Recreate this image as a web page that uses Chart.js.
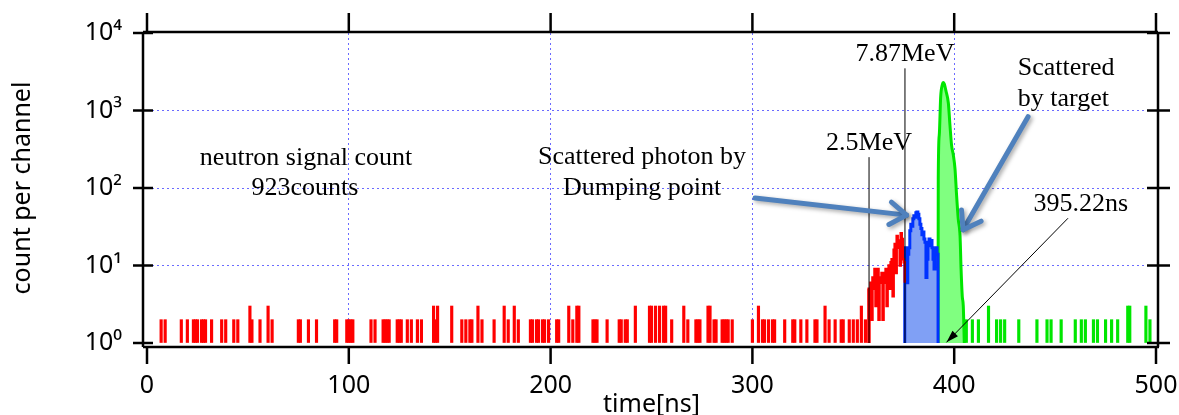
<!DOCTYPE html>
<html>
<head>
<meta charset="utf-8">
<script src="https://cdn.jsdelivr.net/npm/chart.js@4"></script>
<style>
  html, body { margin: 0; padding: 0; background: #fff; }
</style>
</head>
<body>
<canvas id="myChart" width="1179" height="415"></canvas>
<script>
// axis ticks
const xTicks = [0, 100, 200, 300, 400, 500];
const yTicks = [1, 10, 100, 1000, 10000];

// isolated single-channel hits (neutron side, red)
const redSpikeTime = [7, 9, 17, 20, 23, 24, 25, 27, 28, 29, 32, 37, 39, 43, 45, 51, 52, 56, 60, 62,
  75, 76, 80, 84, 93, 94, 99, 100, 101, 102, 111, 113, 117, 118, 119, 120, 124, 125, 126, 129,
  131, 134, 136, 142, 143, 144, 151, 156, 158, 160, 161, 164, 166, 172, 177, 179, 182, 184, 190, 191,
  193, 194, 196, 197, 199, 203, 204, 209, 211, 213, 214, 221, 222, 223, 228, 234, 235, 237, 238, 242,
  249, 250, 252, 254, 256, 257, 260, 266, 268, 272, 273, 274, 278, 279, 281, 282, 285, 286, 287, 288,
  290, 300, 303, 305, 306, 308, 310, 311, 316, 320, 321, 324, 327, 331, 332, 336, 338, 341, 344, 345,
  348, 350, 352, 354, 356];
const redSpikeCount = [2, 2, 2, 2, 2, 2, 2, 2, 2, 2, 2, 2, 2, 2, 2, 3, 2, 2, 3, 2,
  2, 2, 2, 2, 2, 2, 2, 2, 2, 2, 2, 2, 2, 2, 2, 2, 2, 2, 2, 2,
  2, 2, 2, 3, 2, 3, 3, 2, 2, 2, 2, 3, 2, 2, 3, 2, 3, 2, 2, 2,
  2, 2, 2, 2, 2, 2, 2, 3, 2, 3, 3, 2, 2, 2, 2, 2, 2, 2, 2, 3,
  3, 3, 3, 3, 3, 3, 2, 3, 2, 2, 2, 2, 3, 3, 2, 2, 2, 2, 2, 2,
  2, 2, 3, 2, 2, 2, 2, 2, 2, 2, 2, 2, 2, 2, 2, 3, 2, 2, 2, 2,
  2, 2, 2, 3, 2];

// rising neutron part just before the photon peak
const redRiseTime = [357, 357.5, 358, 358.5, 359, 359.5, 360, 360.5, 361, 361.5, 362, 362.5, 363, 363.5,
  364, 364.5, 365, 365.5, 366, 366.5, 367, 367.5, 368, 368.5, 369, 369.5, 370, 370.5, 371, 371.5,
  372, 372.5, 373, 373.5, 374, 374.5, 375, 375.5];
const redRiseCount = [5, 1, 4, 6, 2, 7, 5, 9, 3, 8, 9, 2, 7, 6,
  8, 2, 8, 6, 9, 3, 7, 10, 5, 11, 12, 4, 16, 19, 8, 24,
  17, 21, 10, 26, 22, 12, 11, 6];

// scattered photon by dumping point (blue)
const blueTime = [375.5, 375.5, 376, 376.5, 377, 377.5, 378, 378.5, 379, 379.5, 380, 380.5, 381, 381.5,
  382, 382.5, 383, 383.5, 384, 384.5, 385, 385.5, 386, 386.5, 387, 387.5, 388, 388.5, 389, 389.5,
  390, 390.5, 391, 391.5, 392];
const blueCount = [1, 17, 16, 6, 14, 17, 28, 34, 32, 40, 44, 42, 48, 49,
  46, 40, 34, 30, 25, 27, 22, 20, 7, 12, 20, 22, 18, 21, 17, 12,
  9, 16, 17, 14, 1];

// scattered by target (green)
const greenTime = [392, 392.1, 392.6, 393.3, 394.1, 394.7, 395.1, 395.9, 397.1, 397.9, 398.7, 399.6,
  400.4, 401.2, 402, 402.9, 403.4, 404, 404.5, 405];
const greenCount = [1, 130, 480, 1500, 2150, 2300, 2200, 1800, 1250, 645, 355, 263,
  177, 79, 40, 24, 9, 4, 3, 1];

const greenSpikeTime = [406, 409, 412, 417, 421, 423, 425, 432, 441, 446, 448, 453, 460, 463, 465,
  469, 471, 475, 478, 481, 486, 487, 495, 497];
const greenSpikeCount = [2, 2, 2, 3, 2, 2, 2, 2, 2, 2, 2, 2, 2, 2, 2,
  2, 2, 2, 2, 2, 3, 3, 3, 2];

// energy markers
const markerTime = [357.8, 375.6];
const markerTop = [250, 3500];
const markerText = ['2.5MeV', '7.87MeV'];

const toXY = (t, c) => t.map((v, i) => ({ x: v, y: c[i] }));

const sup = ['\u2070', '\u00b9', '\u00b2', '\u00b3', '\u2074'];

const serif = '26px "Liberation Serif", "Times New Roman", serif';
const gridBlue = '#6a6aff';

function arrow(ctx, x1, y1, x2, y2, head, spread, open) {
  const a = Math.atan2(y2 - y1, x2 - x1);
  ctx.beginPath();
  ctx.moveTo(x1, y1);
  ctx.lineTo(x2, y2);
  ctx.stroke();
  ctx.beginPath();
  ctx.moveTo(x2 - head * Math.cos(a - spread), y2 - head * Math.sin(a - spread));
  ctx.lineTo(x2, y2);
  ctx.lineTo(x2 - head * Math.cos(a + spread), y2 - head * Math.sin(a + spread));
  if (open) {
    ctx.stroke();
  } else {
    ctx.closePath();
    ctx.fill();
  }
}

const notes = {
  id: 'notes',
  afterDatasetsDraw(chart) {
    const { ctx, scales: { x, y } } = chart;
    const px = (t) => x.getPixelForValue(t);
    const py = (c) => y.getPixelForValue(c);
    ctx.save();

    // marker lines + labels
    ctx.strokeStyle = '#000';
    ctx.lineWidth = 1;
    ctx.font = serif;
    ctx.fillStyle = '#000';
    ctx.textAlign = 'center';
    ctx.textBaseline = 'middle';
    markerTime.forEach((t, i) => {
      ctx.beginPath();
      ctx.moveTo(px(t), py(1));
      ctx.lineTo(px(t), py(markerTop[i]));
      ctx.stroke();
      ctx.fillText(markerText[i], px(t), py(markerTop[i]) - 14);
    });

    ctx.fillText('neutron signal count', px(78.8), py(10 ** 2.39));
    ctx.fillText('923counts', px(78.3), py(10 ** 2.0));
    ctx.fillText('Scattered photon by', px(245.3), py(10 ** 2.4));
    ctx.fillText('Dumping point', px(245.3), py(10 ** 2.0));
    ctx.textAlign = 'left';
    ctx.fillText('Scattered', px(431.5), py(10 ** 3.55));
    ctx.fillText('by target', px(431.5), py(10 ** 3.15));
    ctx.textAlign = 'center';
    ctx.fillText('395.22ns', px(462.8), py(10 ** 1.79));

    // black pointer to 395.22ns
    ctx.lineWidth = 1;
    arrow(ctx, px(456.4), py(10 ** 1.61), px(396.2), py(1.02), 13, 0.3, false);

    // blue arrows
    ctx.strokeStyle = '#4f81bd';
    ctx.lineWidth = 5;
    ctx.lineCap = 'round';
    ctx.lineJoin = 'round';
    ctx.shadowColor = 'rgba(0,0,0,0.35)';
    ctx.shadowBlur = 4;
    ctx.shadowOffsetX = 2;
    ctx.shadowOffsetY = 2;
    arrow(ctx, px(301.3), py(10 ** 1.87), px(376.4), py(10 ** 1.65), 20, 0.6, true);
    arrow(ctx, px(436.6), py(10 ** 2.92), px(404.4), py(10 ** 1.46), 20, 0.6, true);
    ctx.restore();
  }
};

const frame = {
  id: 'frame',
  afterDraw(chart) {
    const { ctx, chartArea: a, scales: { x, y } } = chart;
    const L = a.left - 4, B = a.bottom + 4, T = a.top - 1, R = a.right + 2;
    const line = (x1, y1, x2, y2) => { ctx.beginPath(); ctx.moveTo(x1, y1); ctx.lineTo(x2, y2); ctx.stroke(); };
    ctx.save();
    ctx.strokeStyle = '#000';
    ctx.lineWidth = 2.5;
    line(L, T, R, T);
    line(L, T, L, B);
    line(L, B, R + 1, B);
    line(R, T, R, B);
    xTicks.forEach(v => {
      const p = x.getPixelForValue(v);
      line(p, B, p, B + 17);
      line(p, T, p, T - 19);
    });
    yTicks.forEach(v => {
      const p = y.getPixelForValue(v);
      line(L - 10, p, L + 10, p);
      line(R - 11, p, R + 12, p);
    });
    ctx.restore();
  }
};

const ctx = document.getElementById('myChart');

new Chart(ctx, {
  type: 'line',
  data: {
    datasets: [
      {
        label: 'neutron rise',
        data: toXY(redRiseTime, redRiseCount),
        borderColor: '#ff0000',
        borderWidth: 2.5,
        stepped: true,
        fill: false,
        pointRadius: 0,
      },
      {
        label: 'photon (dumping point)',
        data: toXY(blueTime, blueCount),
        borderColor: '#0033ff',
        backgroundColor: 'rgb(128, 160, 245)',
        borderWidth: 3,
        stepped: true,
        fill: 'start',
        pointRadius: 0,
      },
      {
        label: 'scattered by target',
        data: toXY(greenTime, greenCount),
        borderColor: '#00e600',
        backgroundColor: 'rgb(128, 255, 128)',
        borderWidth: 3,
        cubicInterpolationMode: 'monotone',
        fill: 'start',
        pointRadius: 0,
      },
      {
        type: 'bar',
        label: 'neutron hits',
        data: toXY(redSpikeTime, redSpikeCount),
        backgroundColor: '#ff0000',
        barThickness: 2.5,
        grouped: false,
        base: 1,
      },
      {
        type: 'bar',
        label: 'late hits',
        data: toXY(greenSpikeTime, greenSpikeCount),
        backgroundColor: '#00e600',
        barThickness: 2.5,
        grouped: false,
        base: 1,
      },
    ],
  },
  options: {
    responsive: false,
    animation: false,
    layout: { padding: { left: 0, right: 23, top: 33, bottom: 0 } },
    plugins: {
      legend: { display: false },
      tooltip: { enabled: false },
    },
    scales: {
      x: {
        type: 'linear',
        min: 0,
        max: 500,
        offset: false,
        afterFit: (s) => { s.height = 72; s.paddingLeft = 0; s.paddingRight = 0; },
        afterBuildTicks: (s) => { s.ticks = xTicks.map(v => ({ value: v })); },
        ticks: {
          color: '#000',
          padding: 28,
          maxRotation: 0,
          font: { family: 'Noto Sans', size: 25 },
        },
        grid: {
          offset: false,
          drawTicks: false,
          lineWidth: 1,
          color: (c) => (c.tick && c.tick.value > 0 && c.tick.value < 500 ? gridBlue : 'rgba(0,0,0,0)'),
        },
        border: { display: false, dash: [2, 3] },
        title: {
          display: true,
          text: 'time[ns]',
          color: '#000',
          padding: 0,
          font: { family: 'Noto Sans', size: 25, lineHeight: 0.8 },
        },
      },
      y: {
        type: 'logarithmic',
        min: 1,
        max: 10000,
        afterFit: (s) => { s.width = 147; s.paddingTop = 0; s.paddingBottom = 0; },
        afterBuildTicks: (s) => { s.ticks = yTicks.map(v => ({ value: v })); },
        ticks: {
          color: '#000',
          padding: 25,
          font: { family: 'Noto Sans', size: 25 },
          callback: (v) => '10' + sup[Math.round(Math.log10(v))],
        },
        grid: {
          drawTicks: false,
          lineWidth: 1,
          color: (c) => (c.tick && c.tick.value > 1 && c.tick.value < 10000 ? gridBlue : 'rgba(0,0,0,0)'),
        },
        border: { display: false, dash: [2, 3] },
        title: {
          display: true,
          text: 'count per channel',
          color: '#000',
          padding: { top: 8, bottom: 0 },
          font: { family: 'Noto Sans', size: 25 },
        },
      },
    },
  },
  plugins: [notes, frame],
});
</script>
</body>
</html>
